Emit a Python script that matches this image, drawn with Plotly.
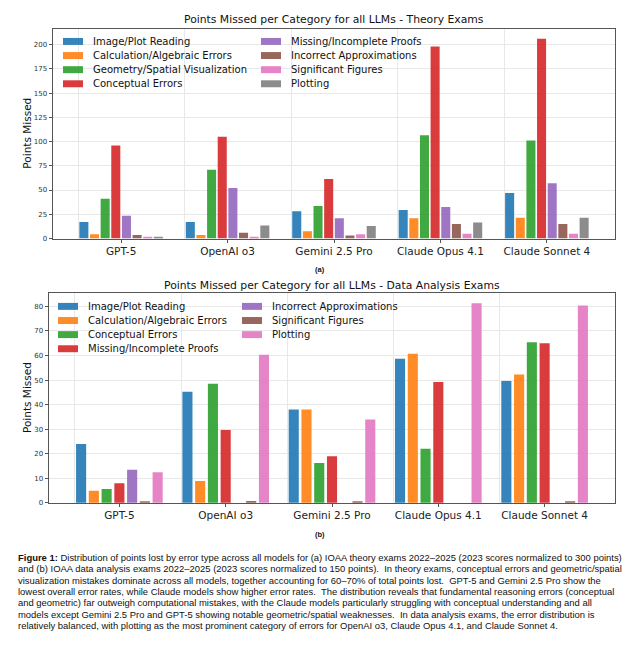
import plotly.graph_objects as go

# ---------------- data ----------------
models = ["GPT-5", "OpenAI o3", "Gemini 2.5 Pro", "Claude Opus 4.1", "Claude Sonnet 4"]

theory_categories = ["Image/Plot Reading", "Calculation/Algebraic Errors",
                     "Geometry/Spatial Visualization", "Conceptual Errors",
                     "Missing/Incomplete Proofs", "Incorrect Approximations",
                     "Significant Figures", "Plotting"]
theory_image = [17, 17, 28, 29.5, 47]
theory_calc = [4.5, 3.5, 7.5, 21, 21.5]
theory_geom = [41, 71, 33.5, 106.5, 101]
theory_concept = [96, 105, 61.5, 198, 206]
theory_proofs = [23.5, 52, 21, 32.5, 57]
theory_approx = [3.5, 6, 3, 15, 15]
theory_sigfig = [1, 1, 4.5, 5, 5]
theory_plotting = [1, 13.5, 13, 16.5, 21.5]

data_categories = ["Image/Plot Reading", "Calculation/Algebraic Errors",
                   "Conceptual Errors", "Missing/Incomplete Proofs",
                   "Incorrect Approximations", "Significant Figures", "Plotting"]
data_image = [24, 45.3, 38, 58.7, 49.6]
data_calc = [4.9, 8.9, 38, 60.7, 52.3]
data_concept = [5.7, 48.5, 16.2, 22, 65.4]
data_proofs = [8, 29.7, 19, 49.2, 65]
data_approx = [13.5, 0, 0, 0, 0]
data_sigfig = [0.4, 0.8, 0.4, 0, 0.4]
data_plotting = [12.5, 60.3, 34, 81.3, 80.4]

theory_ticks = [0, 25, 50, 75, 100, 125, 150, 175, 200]
data_ticks = [0, 10, 20, 30, 40, 50, 60, 70, 80]

caption_lines = [
    "<b>Figure 1:</b> Distribution of points lost by error type across all models for (a) IOAA theory exams 2022–2025 (2023 scores normalized to 300 points)",
    "and (b) IOAA data analysis exams 2022–2025 (2023 scores normalized to 150 points).  In theory exams, conceptual errors and geometric/spatial",
    "visualization mistakes dominate across all models, together accounting for 60–70% of total points lost.  GPT-5 and Gemini 2.5 Pro show the",
    "lowest overall error rates, while Claude models show higher error rates.  The distribution reveals that fundamental reasoning errors (conceptual",
    "and geometric) far outweigh computational mistakes, with the Claude models particularly struggling with conceptual understanding and all",
    "models except Gemini 2.5 Pro and GPT-5 showing notable geometric/spatial weaknesses.  In data analysis exams, the error distribution is",
    "relatively balanced, with plotting as the most prominent category of errors for OpenAI o3, Claude Opus 4.1, and Claude Sonnet 4.",
]

# ---------------- styling ----------------
W, H = 640, 647
tab10 = ["#1f77b4", "#ff7f0e", "#2ca02c", "#d62728", "#9467bd", "#8c564b", "#e377c2", "#7f7f7f"]
data_colors = ["#1f77b4", "#ff7f0e", "#2ca02c", "#d62728", "#9467bd", "#8c564b", "#e377c2"]
OP = 0.9
FONT = "DejaVu Sans"


def px(x):
    return x / W


def py(y):
    return 1 - y / H


x_pos = list(range(len(models)))

fig = go.Figure()

theory_series = [theory_image, theory_calc, theory_geom, theory_concept,
                 theory_proofs, theory_approx, theory_sigfig, theory_plotting]
data_series = [data_image, data_calc, data_concept, data_proofs,
               data_approx, data_sigfig, data_plotting]

# top: 8 slots of 0.1
step_t, bw_t = 0.1, 0.085
start_t = -len(theory_series) * step_t / 2
for k, (name, vals) in enumerate(zip(theory_categories, theory_series)):
    fig.add_trace(go.Bar(
        x=x_pos, y=vals, name=name, width=bw_t,
        offset=start_t + k * step_t + (step_t - bw_t) / 2,
        marker=dict(color=tab10[k], opacity=OP, line=dict(width=0)),
        xaxis="x", yaxis="y", showlegend=False))

# bottom: 7 slots of 0.12
step_d, bw_d = 0.12, 0.095
start_d = -len(data_series) * step_d / 2
for k, (name, vals) in enumerate(zip(data_categories, data_series)):
    fig.add_trace(go.Bar(
        x=x_pos, y=vals, name=name, width=bw_d,
        offset=start_d + k * step_d + (step_d - bw_d) / 2,
        marker=dict(color=data_colors[k], opacity=OP, line=dict(width=0)),
        xaxis="x2", yaxis="y2", showlegend=False))

frame = "#555555"
grid = "#e8e8e8"


def xaxis_cfg(domain, rng, grid_pos):
    return dict(domain=domain, range=rng, anchor=None,
                tickmode="array", tickvals=x_pos, ticktext=models,
                ticks="outside", ticklen=3, tickcolor=frame,
                tickfont=dict(family=FONT, size=10.5, color="#222"),
                showgrid=False, zeroline=False,
                showline=True, mirror=True, linecolor=frame, linewidth=1,
                minor=dict(tickmode="array", tickvals=grid_pos, showgrid=True,
                           gridcolor=grid, gridwidth=1, ticklen=0))


def yaxis_cfg(domain, rng, ticks):
    return dict(domain=domain, range=rng, tickmode="array", tickvals=ticks,
                ticks="outside", ticklen=3.5, tickcolor=frame,
                tickfont=dict(family=FONT, size=7, color="#333"),
                showgrid=True, gridcolor=grid, gridwidth=1, zeroline=False,
                showline=True, mirror=True, linecolor=frame, linewidth=1)


top_x = (53, 615)
top_y = (29, 240)
bot_x = (49, 615)
bot_y = (295, 506)

xa = xaxis_cfg([px(top_x[0]), px(top_x[1])], [-0.64, 4.64], [i + start_t for i in x_pos])
xa["anchor"] = "y"
xb = xaxis_cfg([px(bot_x[0]), px(bot_x[1])], [-0.662, 4.662], [i + start_d for i in x_pos])
xb["anchor"] = "y2"
ya = yaxis_cfg([py(top_y[1]), py(top_y[0])], [0, 216.3], theory_ticks)
ya["anchor"] = "x"
yb = yaxis_cfg([py(bot_y[1]), py(bot_y[0])], [0, 85.4], data_ticks)
yb["anchor"] = "x2"

annotations = []
shapes = []

# titles
annotations.append(dict(text="Points Missed per Category for all LLMs - Theory Exams",
                        x=px((top_x[0] + top_x[1]) / 2), y=py(20), xref="paper", yref="paper",
                        xanchor="center", yanchor="middle", showarrow=False,
                        font=dict(family=FONT, size=10.8, color="#111")))
annotations.append(dict(text="Points Missed per Category for all LLMs - Data Analysis Exams",
                        x=px((bot_x[0] + bot_x[1]) / 2), y=py(287), xref="paper", yref="paper",
                        xanchor="center", yanchor="middle", showarrow=False,
                        font=dict(family=FONT, size=10.8, color="#111")))
for yc in [(top_y[0] + top_y[1]) / 2, (bot_y[0] + bot_y[1]) / 2]:
    annotations.append(dict(text="Points Missed", x=px(27), y=py(yc), xref="paper", yref="paper",
                            xanchor="center", yanchor="middle", textangle=-90, showarrow=False,
                            font=dict(family=FONT, size=10.5, color="#111")))
# (a) (b)
annotations.append(dict(text="<b>(a)</b>", x=px(320), y=py(271), xref="paper", yref="paper",
                        xanchor="center", yanchor="middle", showarrow=False,
                        font=dict(family="Liberation Sans", size=7.5, color="#111")))
annotations.append(dict(text="<b>(b)</b>", x=px(320), y=py(538), xref="paper", yref="paper",
                        xanchor="center", yanchor="middle", showarrow=False,
                        font=dict(family="Liberation Sans", size=7.5, color="#111")))


# legends (two columns, four rows each)
def legend(names, colors, col_x, row_y0, row_dy):
    for k, (n, c) in enumerate(zip(names, colors)):
        col, row = divmod(k, 4)
        x0 = col_x[col]
        yc = row_y0 + row * row_dy
        shapes.append(dict(type="rect", xref="paper", yref="paper",
                           x0=px(x0), x1=px(x0 + 20), y0=py(yc - 3.5), y1=py(yc + 3.5),
                           fillcolor=c, opacity=OP, line=dict(width=0)))
        annotations.append(dict(text=n, x=px(x0 + 28), y=py(yc), xref="paper", yref="paper",
                                xanchor="left", yanchor="middle", showarrow=False,
                                font=dict(family=FONT, size=10, color="#111")))


legend(theory_categories, tab10, [63, 261], 41.7, 14.2)
legend(data_categories, data_colors, [58, 242], 308.3, 14.2)

# caption
cap_y0, cap_dy = 561, 11.4
for i, line in enumerate(caption_lines):
    annotations.append(dict(text=line, x=px(16), y=py(cap_y0 + i * cap_dy), xref="paper", yref="paper",
                            xanchor="left", yanchor="middle", showarrow=False,
                            font=dict(family="Liberation Sans", size=9.45, color="#111")))

fig.update_layout(
    width=W, height=H, margin=dict(l=0, r=0, t=0, b=0),
    paper_bgcolor="white", plot_bgcolor="white",
    barmode="overlay",
    xaxis=xa, yaxis=ya, xaxis2=xb, yaxis2=yb,
    annotations=annotations, shapes=shapes,
    showlegend=False,
)

fig.write_html("out.html", config={"displayModeBar": False},
               post_script="document.body.style.margin='0';document.body.style.overflow='hidden';")
